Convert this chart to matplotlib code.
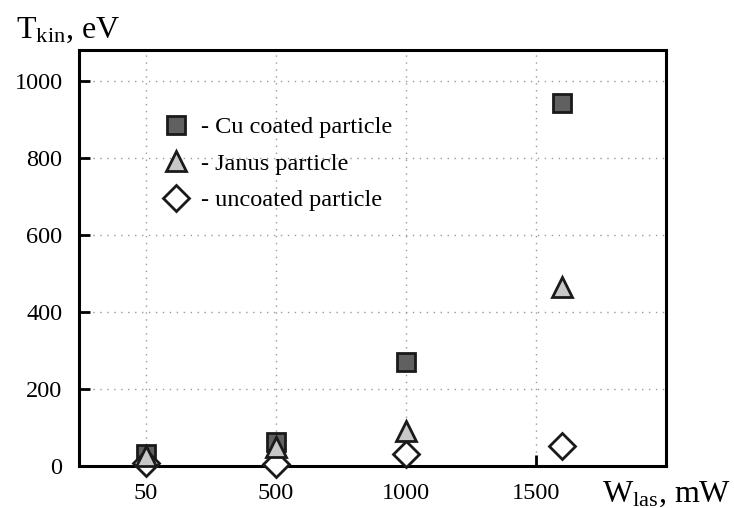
import matplotlib
matplotlib.use("Agg")
import matplotlib.pyplot as plt
from matplotlib.ticker import FixedLocator
import numpy as np

# laser power, mW (last group is plotted a bit past the 1500 tick)
power = [50, 500, 1000, 1600]
x_ticks = [50, 500, 1000, 1500]
y_ticks = [0, 200, 400, 600, 800, 1000]

# kinetic energy, eV
cu_coated = [32, 62, 270, 942]
janus = [26, 50, 90, 464]
uncoated = [7, 6, 30, 52]

labels = ["- Cu coated particle", "- Janus particle", "- uncoated particle"]


def fwd(x):
    x = np.asarray(x, dtype=float)
    return np.where(x < 500, (x - 50) / 450.0, 1 + (x - 500) / 500.0)


def inv(y):
    y = np.asarray(y, dtype=float)
    return np.where(y < 1, 50 + 450 * y, 500 + 500 * (y - 1))


def main():
    plt.rcParams['font.family'] = ['Liberation Serif', 'DejaVu Serif']
    plt.rcParams['mathtext.fontset'] = 'custom'
    plt.rcParams['mathtext.rm'] = 'Liberation Serif'

    fig = plt.figure(figsize=(7.34, 5.08), dpi=100)
    ax = fig.add_axes([0.108, 0.083, 0.799, 0.819])

    ax.set_xscale('function', functions=(fwd, inv))
    ax.set_xlim(-180, 2000)
    ax.set_ylim(0, 1080)
    ax.xaxis.set_major_locator(FixedLocator(x_ticks))
    ax.xaxis.set_minor_locator(FixedLocator([]))
    ax.set_xticks(x_ticks)
    ax.set_xticklabels([str(v) for v in x_ticks])
    ax.set_yticks(y_ticks)

    ax.grid(True, linestyle=(0, (1, 4)), color='#999999', linewidth=1.0)
    ax.set_axisbelow(True)

    for sp in ax.spines.values():
        sp.set_linewidth(2.2)
    ax.tick_params(direction='in', length=8, width=2, labelsize=17.5)
    ax.tick_params(axis='y', pad=12)
    ax.tick_params(axis='x', pad=12)

    ax.plot(power, cu_coated, 's', ms=13.5, mfc='#606060', mec='#1a1a1a',
            mew=2, clip_on=False, zorder=4, label=labels[0])
    ax.plot(power, janus, '^', ms=14, mfc='#c8c8c8', mec='#1a1a1a',
            mew=2, clip_on=False, zorder=6, label=labels[1])
    ax.plot(power, uncoated, 'D', ms=13, mfc='white', mec='#1a1a1a',
            mew=2, clip_on=False, zorder=5, label=labels[2])

    ax.legend(loc='upper left', bbox_to_anchor=(0.124, 0.87), frameon=False,
              fontsize=17.5, handlelength=1.0, handletextpad=0.5,
              labelspacing=0.6, borderpad=0)

    fig.text(0.022, 0.925, r'$\mathrm{T_{kin}}$, eV', fontsize=23, ha='left', va='baseline')
    fig.text(0.82, 0.012, r'$\mathrm{W_{las}}$, mW', fontsize=23, ha='left', va='baseline')

    fig.savefig('out.png', dpi=100)


if __name__ == '__main__':
    main()
